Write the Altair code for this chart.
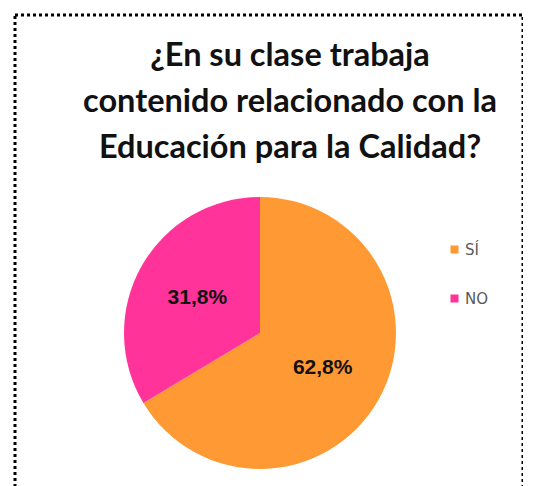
import altair as alt
import pandas as pd

categories = ["SÍ", "NO"]
values = [62.8, 31.8]
labels = ["62,8%", "31,8%"]
colors = ["#FF9933", "#FF3399"]
title_lines = ["¿En su clase trabaja", "contenido relacionado con la", "Educación para la Calidad?"]

df = pd.DataFrame({"cat": categories, "val": values, "lab": labels, "ord": [0, 1]})
tdf = pd.DataFrame({"t": ["\n".join(title_lines)]})

cx, cy = 245, 318

base = alt.Chart(df)
arc = base.mark_arc(outerRadius=136).encode(
    theta=alt.Theta("val:Q", stack=True),
    order=alt.Order("ord:Q"),
    color=alt.Color(
        "cat:N",
        scale=alt.Scale(domain=categories, range=colors),
        sort=categories,
        legend=alt.Legend(
            title=None, orient="none", legendX=432, legendY=227,
            symbolType="square", symbolSize=64, symbolStrokeWidth=0,
            labelFont="DejaVu Sans", labelFontSize=15, labelColor="#595959",
            rowPadding=33, labelOffset=3,
        ),
    ),
    x=alt.value(cx), y=alt.value(cy),
)
txt = base.mark_text(radius=72, font="Liberation Sans", fontWeight="bold", fontSize=21, color="#111111").encode(
    theta=alt.Theta("val:Q", stack=True),
    order=alt.Order("ord:Q"),
    text="lab:N",
    x=alt.value(cx), y=alt.value(cy),
)
title = alt.Chart(tdf).mark_text(
    lineBreak="\n", lineHeight=46, font="Lato", fontWeight="bold", fontSize=32.5,
    color="#111111", align="center", baseline="alphabetic",
).encode(text="t:N", x=alt.value(275), y=alt.value(51))

chart = alt.layer(arc, txt, title).properties(
    width=508, height=490,
    padding={"left": 7, "top": 7, "right": 0, "bottom": 0},
    autosize=alt.AutoSizeParams(type="none"),
).configure_view(
    stroke="#000000", strokeWidth=3, strokeDash=[3, 3]
)

chart.save("out.html", embed_options={"renderer": "svg", "actions": False})
